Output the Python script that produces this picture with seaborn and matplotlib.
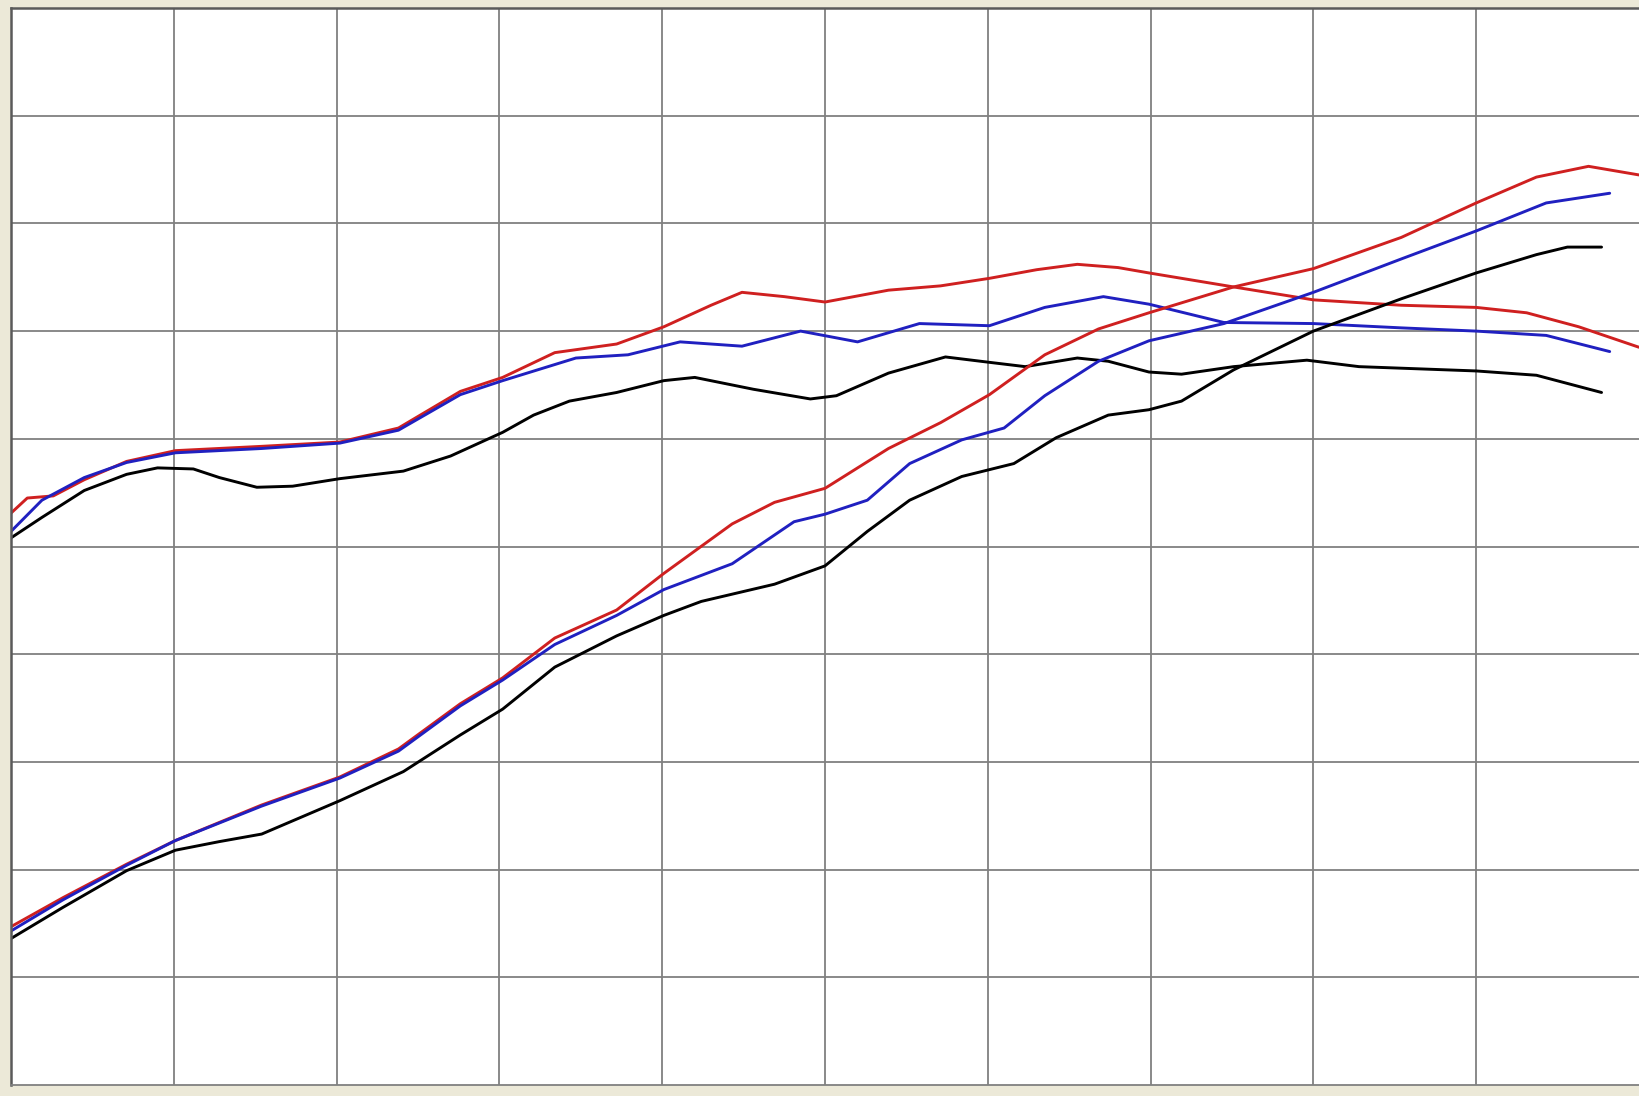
import matplotlib
matplotlib.use('Agg')
import matplotlib.pyplot as plt
import seaborn as sns
import pandas as pd

# Values in grid units (10 x 10 cells)
# Upper group (flat-ish curves)
upper_red_x = [0, 0.1, 0.26, 0.45, 0.71, 1.01, 1.54, 2.02, 2.38, 2.76, 3.02, 3.34, 3.72, 4.01, 4.3, 4.49,
               4.75, 5.0, 5.39, 5.71, 6.01, 6.3, 6.55, 6.8, 6.99, 7.51, 8.0, 8.54, 9.0, 9.31, 9.63, 10.0]
upper_red_y = [5.31, 5.45, 5.47, 5.62, 5.79, 5.89, 5.93, 5.97, 6.10, 6.44, 6.57, 6.80, 6.88, 7.04, 7.24, 7.36,
               7.32, 7.27, 7.38, 7.42, 7.49, 7.57, 7.62, 7.59, 7.54, 7.41, 7.29, 7.24, 7.22, 7.17, 7.04, 6.85]

upper_blue_x = [0, 0.19, 0.45, 0.71, 1.01, 1.54, 2.02, 2.38, 2.76, 3.02, 3.47, 3.79, 4.11, 4.49, 4.85,
                5.2, 5.58, 6.01, 6.35, 6.71, 6.99, 7.45, 8.0, 8.54, 9.0, 9.43, 9.82]
upper_blue_y = [5.14, 5.43, 5.64, 5.78, 5.87, 5.91, 5.96, 6.08, 6.41, 6.54, 6.75, 6.78, 6.90, 6.86, 7.0,
                6.90, 7.07, 7.05, 7.22, 7.32, 7.25, 7.08, 7.07, 7.03, 7.0, 6.96, 6.81]

upper_black_x = [0, 0.19, 0.45, 0.71, 0.9, 1.12, 1.28, 1.51, 1.73, 2.02, 2.41, 2.7, 3.02, 3.21, 3.43,
                 3.72, 4.01, 4.2, 4.56, 4.91, 5.07, 5.39, 5.74, 6.01, 6.23, 6.55, 6.74, 6.99, 7.19,
                 7.51, 7.96, 8.28, 9.0, 9.37, 9.77]
upper_black_y = [5.08, 5.27, 5.52, 5.67, 5.73, 5.72, 5.64, 5.55, 5.56, 5.63, 5.70, 5.84, 6.06, 6.22, 6.35,
                 6.43, 6.54, 6.57, 6.46, 6.37, 6.40, 6.61, 6.76, 6.71, 6.67, 6.75, 6.72, 6.62, 6.60,
                 6.67, 6.73, 6.67, 6.63, 6.59, 6.43]

# Lower group (rising curves)
lower_red_x = [0, 0.32, 0.71, 1.01, 1.54, 2.02, 2.38, 2.76, 3.02, 3.34, 3.72, 4.01, 4.43, 4.69, 5.0,
               5.39, 5.71, 6.01, 6.35, 6.68, 6.99, 7.51, 8.0, 8.54, 9.0, 9.37, 9.69, 10.0]
lower_red_y = [1.47, 1.74, 2.05, 2.27, 2.60, 2.86, 3.12, 3.54, 3.78, 4.15, 4.41, 4.75, 5.21, 5.41, 5.54,
               5.91, 6.15, 6.41, 6.78, 7.02, 7.17, 7.41, 7.58, 7.87, 8.19, 8.43, 8.53, 8.45]

lower_blue_x = [0, 0.32, 0.71, 1.01, 1.54, 2.02, 2.38, 2.76, 3.02, 3.34, 3.72, 4.01, 4.43, 4.81, 5.0,
                5.26, 5.52, 5.84, 6.1, 6.35, 6.68, 6.99, 7.45, 8.0, 8.54, 9.0, 9.43, 9.82]
lower_blue_y = [1.43, 1.72, 2.04, 2.27, 2.59, 2.85, 3.10, 3.52, 3.76, 4.09, 4.36, 4.60, 4.84, 5.23, 5.30,
                5.43, 5.77, 5.99, 6.10, 6.40, 6.72, 6.91, 7.07, 7.36, 7.67, 7.93, 8.19, 8.28]

lower_black_x = [0, 0.32, 0.71, 1.01, 1.28, 1.54, 2.02, 2.41, 2.76, 3.02, 3.34, 3.72, 4.01, 4.24, 4.69,
                 5.0, 5.26, 5.52, 5.84, 6.16, 6.42, 6.74, 6.99, 7.19, 7.51, 8.0, 8.54, 9.0, 9.37,
                 9.56, 9.77]
lower_black_y = [1.36, 1.65, 1.99, 2.18, 2.26, 2.33, 2.64, 2.91, 3.25, 3.49, 3.88, 4.17, 4.36, 4.49, 4.65,
                 4.82, 5.14, 5.43, 5.65, 5.77, 6.01, 6.22, 6.27, 6.35, 6.64, 7.0, 7.30, 7.54, 7.71,
                 7.78, 7.78]

series = [
    (upper_red_x, upper_red_y, '#cf2020'),
    (upper_blue_x, upper_blue_y, '#2020c0'),
    (upper_black_x, upper_black_y, '#000000'),
    (lower_red_x, lower_red_y, '#cf2020'),
    (lower_blue_x, lower_blue_y, '#2020c0'),
    (lower_black_x, lower_black_y, '#000000'),
]

sns.set_style('white')

W, H = 1639, 1096
fig = plt.figure(figsize=(W / 100, H / 100), dpi=100, facecolor='#ece9d8')
ax = fig.add_axes([11 / W, 11 / H, (W - 11) / W, 1077 / H])
ax.set_facecolor('white')

for xs, ys, col in series:
    df = pd.DataFrame({'x': xs, 'y': ys})
    sns.lineplot(data=df, x='x', y='y', color=col, linewidth=2.1, ax=ax, sort=False)

ax.set_xlim(0, 10)
ax.set_ylim(0, 10)
ax.set_xticks(range(1, 10))
ax.set_yticks(range(1, 10))
ax.grid(True, color='#808080', linewidth=1.3)
ax.set_axisbelow(True)
ax.tick_params(length=0, labelbottom=False, labelleft=False)
ax.set_xlabel('')
ax.set_ylabel('')

ax.spines['right'].set_visible(False)
ax.spines['bottom'].set_color('#808080')
ax.spines['bottom'].set_linewidth(1.3)
for side in ['top', 'left']:
    ax.spines[side].set_color('#5a5a5a')
    ax.spines[side].set_linewidth(1.8)

fig.savefig('out.png', dpi=100, facecolor=fig.get_facecolor())
